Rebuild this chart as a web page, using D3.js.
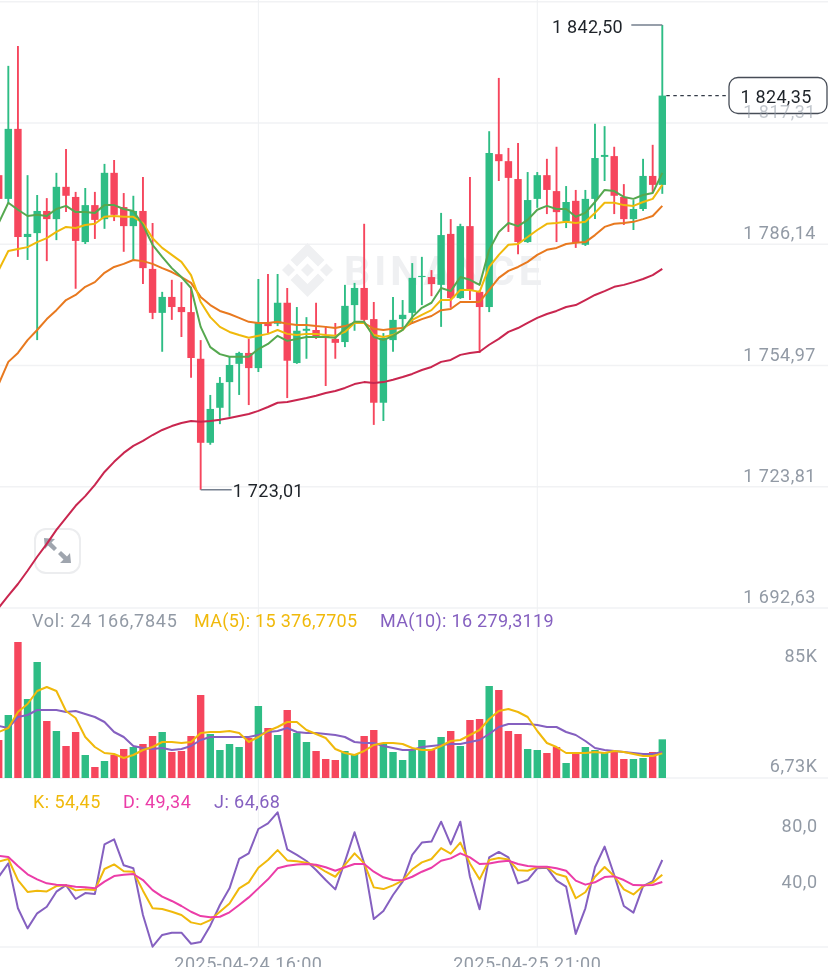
<!doctype html>
<html lang="en">
<head>
<meta charset="utf-8">
<title>ETH candles</title>
<script src="https://d3js.org/d3.v7.min.js"></script>
<style>
    html, body { margin: 0; padding: 0; background: #fff; overflow: hidden; }
    svg { display: block; filter: blur(0.35px); }
    text { font-family: Roboto, sans-serif; }
    .axis-label { font-size: 18px; fill: #929AA5; text-anchor: end; letter-spacing: 0.5px; }
    .legend { font-size: 18px; }
    .grid { stroke: #F1F2F4; stroke-width: 1.5; }
    .vgrid { stroke: #EEF0F3; stroke-width: 1; }
    .line { fill: none; stroke-linejoin: round; }
</style>
</head>
<body>
<svg id="chart" width="828" height="967"></svg>
<script>
// prices, one slot per candle
const opens = [1803.9,1797.8,1815.8,1788.0,1789.0,1794.7,1792.6,1800.9,1798.3,1786.7,1796.2,1792.6,1804.5,1795.7,1790.8,1794.7,1779.8,1768.5,1772.6,1770.0,1768.7,1756.7,1735.1,1744.1,1750.7,1755.4,1758.2,1754.3,1765.9,1765.7,1771.1,1755.6,1763.9,1764.1,1762.6,1761.8,1761.0,1770.5,1774.9,1766.9,1745.4,1761.5,1766.9,1768.5,1777.7,1777.7,1775.7,1788.8,1772.3,1790.8,1773.9,1770.0,1809.3,1807.5,1802.9,1786.7,1797.8,1803.9,1799.8,1792.1,1797.3,1786.0,1797.8,1808.6,1808.8,1798.3,1792.6,1795.2,1803.7,1801.4];
const highs = [1806.5,1832.0,1837.1,1803.9,1798.8,1798.0,1804.5,1810.6,1799.6,1800.6,1799.6,1806.8,1807.8,1799.3,1798.6,1803.4,1791.6,1773.9,1777.0,1776.4,1775.2,1761.5,1747.4,1752.0,1757.2,1758.5,1761.8,1777.2,1778.5,1778.5,1774.9,1770.0,1767.4,1771.1,1765.1,1765.9,1775.7,1776.2,1791.4,1771.3,1763.3,1772.6,1771.8,1781.3,1782.9,1779.5,1794.2,1792.6,1791.4,1803.4,1774.4,1815.2,1828.9,1810.9,1812.2,1804.7,1804.7,1808.1,1811.2,1801.1,1800.1,1800.1,1817.1,1816.5,1811.2,1801.6,1797.5,1808.1,1811.7,1842.5];
const lows = [1796.2,1796.8,1782.9,1782.1,1761.5,1781.8,1787.2,1794.4,1774.7,1786.2,1787.5,1790.1,1792.1,1784.2,1782.1,1775.9,1766.9,1758.5,1766.7,1762.3,1751.8,1723.0,1734.6,1739.9,1741.8,1747.4,1744.8,1753.3,1763.3,1765.1,1746.6,1755.4,1756.7,1761.8,1749.7,1756.7,1759.7,1763.9,1765.9,1739.7,1740.7,1758.5,1764.1,1765.9,1770.5,1772.8,1764.9,1769.8,1772.1,1771.8,1758.2,1768.7,1802.4,1789.3,1783.6,1786.5,1795.5,1793.9,1786.7,1790.3,1785.2,1785.7,1792.6,1802.4,1793.9,1791.1,1789.8,1794.7,1799.3,1799.1];
const closes = [1797.8,1815.8,1788.0,1788.8,1794.7,1792.6,1800.9,1798.6,1787.0,1796.2,1792.4,1804.5,1793.7,1790.8,1794.7,1780.0,1768.5,1772.6,1770.0,1768.7,1756.9,1735.1,1743.8,1750.5,1755.1,1758.2,1754.3,1765.9,1765.1,1771.1,1756.2,1763.9,1764.4,1762.3,1762.1,1760.8,1770.3,1774.9,1766.7,1745.4,1762.1,1766.7,1768.0,1777.5,1778.0,1775.9,1788.5,1772.3,1790.8,1774.4,1770.0,1809.6,1807.5,1803.2,1786.7,1797.5,1803.9,1800.1,1794.4,1797.0,1786.5,1797.8,1808.3,1809.1,1798.6,1792.6,1795.2,1803.7,1801.4,1824.35];
const ma7 = [1791.6,1796.8,1795.0,1793.4,1793.7,1793.4,1795.2,1796.0,1794.4,1794.4,1794.2,1796.2,1796.2,1795.2,1794.7,1791.1,1786.0,1782.9,1780.0,1777.7,1774.9,1764.9,1759.7,1757.9,1757.2,1757.2,1757.2,1759.2,1760.5,1762.6,1761.3,1761.8,1762.3,1762.3,1762.3,1762.1,1764.4,1766.2,1766.2,1762.3,1761.5,1762.6,1764.1,1767.4,1769.8,1771.1,1774.9,1774.1,1777.7,1777.0,1775.7,1784.7,1789.3,1791.6,1790.8,1792.4,1795.0,1796.0,1795.2,1795.2,1793.2,1794.2,1797.0,1800.1,1799.8,1798.3,1797.8,1798.8,1799.3,1804.5];
const ma25 = [1779.5,1784.4,1784.9,1785.4,1786.7,1787.7,1789.3,1790.6,1790.3,1791.1,1791.4,1793.2,1793.4,1793.2,1793.2,1791.6,1787.7,1785.2,1783.4,1781.6,1778.2,1771.3,1767.4,1764.9,1763.6,1762.8,1762.1,1762.6,1763.1,1764.1,1763.1,1762.8,1763.1,1763.1,1762.8,1762.6,1763.6,1765.9,1765.9,1762.8,1762.3,1762.8,1764.1,1766.7,1768.0,1769.2,1771.8,1771.8,1774.4,1774.4,1773.9,1780.3,1783.4,1786.0,1786.2,1788.0,1789.8,1791.4,1791.6,1791.9,1791.6,1791.9,1794.2,1796.8,1796.8,1796.2,1796.0,1797.0,1797.8,1801.4];
const ma50 = [1750.2,1755.9,1758.2,1761.5,1764.1,1766.9,1769.2,1771.8,1773.1,1775.2,1776.4,1778.8,1780.3,1781.1,1782.1,1781.8,1781.1,1780.0,1779.0,1777.7,1776.2,1772.6,1770.5,1769.0,1768.2,1767.2,1766.2,1765.9,1765.9,1766.2,1765.7,1765.4,1765.4,1765.1,1764.9,1764.6,1765.1,1765.9,1765.9,1764.4,1764.1,1764.4,1764.6,1765.9,1766.9,1767.7,1769.2,1769.5,1771.3,1771.3,1771.3,1774.4,1777.5,1779.3,1780.3,1781.6,1783.4,1784.7,1785.2,1786.2,1786.5,1786.7,1788.5,1790.6,1791.4,1791.6,1791.9,1792.6,1793.4,1796.0];
const ma99 = [1692.7,1695.8,1698.8,1702.2,1705.8,1709.1,1712.7,1715.8,1718.9,1721.4,1724.3,1727.6,1730.2,1732.5,1734.3,1735.6,1737.1,1738.4,1739.4,1740.2,1740.7,1740.5,1740.7,1741.0,1741.5,1742.0,1742.5,1743.3,1744.3,1745.4,1745.6,1746.1,1746.6,1747.2,1747.9,1748.4,1749.2,1750.2,1750.7,1750.5,1750.7,1751.3,1752.0,1752.8,1753.8,1754.6,1755.9,1756.4,1757.7,1758.2,1758.5,1760.3,1761.8,1763.6,1764.6,1765.9,1767.2,1768.2,1769.0,1770.0,1770.5,1771.8,1773.1,1774.1,1775.2,1775.7,1776.4,1777.2,1778.2,1779.8];

const volumes = [23750,39375,85000,49375,72500,35625,29375,20000,28750,14375,6875,10625,14375,18125,19375,21250,26250,28750,16250,16875,26250,51875,27500,17500,21250,19375,25000,45000,31250,26875,42500,28125,22500,16875,11875,11250,16875,15000,26250,30000,21250,16250,11250,17500,23750,18125,25625,29375,20000,36250,36875,57500,55000,29375,27500,18125,17500,15625,19375,9375,15000,19375,17500,15625,16875,11875,11875,12500,16250,24166.8];
const volMa5 = [28750,31250,41250,46250,54375,56875,54375,41875,37500,25625,19375,15625,15000,12500,14375,17500,19375,22500,22500,21875,22500,28125,28750,28750,29375,28125,22500,25625,29375,31875,35000,35000,30000,27500,25000,18125,15625,14375,16875,20625,21875,21875,21250,18750,17500,17500,20000,23125,23750,26875,30000,36875,41875,43125,41250,38125,29375,21875,19375,15625,15625,15625,16250,15625,16875,16250,15000,13750,13750,15376.8];
const volMa10 = [32500,31250,38125,39375,42500,42500,42500,41250,41875,40000,38125,35000,28750,25625,20000,18750,18125,18750,17500,18125,20000,23750,25625,25625,25625,25625,25625,26875,28750,29375,31250,28750,28125,28125,27500,26875,25625,22500,21875,21875,20000,18750,17500,17500,19375,20000,20625,21250,21250,22500,23750,27500,31875,33750,33750,33750,33125,31875,31875,28750,26875,23125,18750,17500,16875,16250,15625,15000,15000,16279.3];

const kValues = [63.5,65.4,50.7,42.4,43.3,42.8,46.5,47.0,43.5,44.2,43.7,58.4,61.6,56.8,56.5,43.3,31.0,30.5,28.6,26.3,21.2,19.8,22.8,28.6,34.4,44.9,49.1,59.3,64.7,71.6,64.4,63.8,62.8,60.7,56.5,53.0,61.2,69.3,62.3,45.6,44.4,47.0,50.3,58.2,63.0,65.4,73.0,69.1,76.8,62.3,51.2,64.7,66.1,65.1,57.5,57.2,59.6,59.6,54.9,53.0,38.0,42.2,53.0,59.8,53.5,44.2,40.7,46.5,48.9,54.45];
const dValues = [67.5,66.8,60.5,54.7,51.2,48.4,47.5,47.0,46.1,45.6,44.9,49.6,53.5,54.4,54.9,50.7,43.7,39.1,36.1,32.6,28.6,25.6,24.7,25.1,28.2,33.3,38.6,44.9,51.2,58.9,60.7,61.6,61.9,61.4,59.6,57.2,59.6,61.9,61.9,56.5,52.6,50.7,50.5,53.0,56.5,59.3,64.2,65.8,69.3,66.5,61.9,62.3,63.5,64.2,61.9,60.5,60.0,60.0,58.9,57.2,50.3,47.5,49.1,52.8,53.3,50.7,47.2,47.0,47.2,49.34];
const jValues = [53.0,62.3,31.0,17.0,27.5,32.1,42.6,47.2,37.5,41.6,41.0,75.6,79.1,61.0,58.9,26.3,4.2,12.4,14.0,14.0,6.3,7.5,18.9,33.3,44.9,65.4,69.3,86.3,90.2,97.9,72.1,68.2,64.0,57.7,50.7,44.2,63.5,84.0,62.3,23.5,29.1,40.3,49.6,68.2,76.8,77.5,91.4,75.6,91.4,53.0,30.3,66.5,70.3,66.5,48.4,50.7,58.9,59.3,50.3,46.1,13.1,31.0,59.6,74.0,54.2,32.6,28.0,46.5,50.0,64.68];

const priceTicks = [1817.31, 1786.14, 1754.97, 1723.81, 1692.63];
const priceTickLabels = ["1 817,31", "1 786,14", "1 754,97", "1 723,81", "1 692,63"];
const volTickLabels = ["85K", "6,73K"];
const kdjTicks = [80, 40];
const kdjTickLabels = ["80,0", "40,0"];
const timeTicks = [27, 56];
const timeLabels = ["2025-04-24 16:00", "2025-04-25 21:00"];

const green = "#2EBD85", red = "#F6465D";
const gold = "#F0B90B", purple = "#8560C0", gray = "#929AA5", pink = "#EB3DA8";

const svg = d3.select("#chart");
const width = 828;

const x = d3.scaleLinear().domain([0, closes.length - 1]).range([-1.3, 662.3]);
const y = d3.scaleLinear().domain([1692.63, 1817.31]).range([608, 123]);
const vy = d3.scaleLinear().domain([0, 85000]).range([778, 642]);
const ky = d3.scaleLinear().domain([49.34, 64.68]).range([882, 860]);

const bodyW = 7.4;
const colorOf = i => closes[i] >= opens[i] ? green : red;
const indexes = d3.range(closes.length);

// grid
const gridYs = [y(1848.48), ...priceTicks.map(y), vy(0), 947];
svg.append("g").selectAll("line").data(gridYs).enter().append("line")
    .attr("class", "grid")
    .attr("x1", 0).attr("x2", width)
    .attr("y1", d => d).attr("y2", d => d);
svg.append("g").selectAll("line").data(timeTicks).enter().append("line")
    .attr("class", "vgrid")
    .attr("x1", d => x(d)).attr("x2", d => x(d))
    .attr("y1", 0).attr("y2", 947);

// watermark
const wm = svg.append("g").attr("fill", "#EFF0F2").attr("transform", "translate(307.5,270)");
const diamond = (cx, cy, r) => [[cx, cy - r], [cx + r, cy], [cx, cy + r], [cx - r, cy]].join(" ");
wm.selectAll("polygon.d").data([[0, 0, 6.5], [-19, 0, 6.5], [19, 0, 6.5]]).enter().append("polygon")
    .attr("class", "d").attr("points", d => diamond(d[0], d[1], d[2]));
wm.append("path").attr("d", "M0,-27 L17,-10 L10.5,-3.5 L0,-14 L-10.5,-3.5 L-17,-10 Z");
wm.append("path").attr("d", "M0,27 L17,10 L10.5,3.5 L0,14 L-10.5,3.5 L-17,10 Z");
svg.append("text").attr("x", 344).attr("y", 285)
    .attr("font-size", 41).attr("font-weight", 700).attr("letter-spacing", 4)
    .attr("fill", "#EFF0F2").text("BINANCE");

// expand button, the long average runs over it
svg.append("rect").attr("x", 35).attr("y", 529).attr("width", 45).attr("height", 44).attr("rx", 11)
    .attr("fill", "#fff").attr("stroke", "#ECEDEF").attr("stroke-width", 2);
svg.append("path").attr("d", "M44,538 L55,539 L51.5,542.5 L57,548 L54,551 L48,545.5 L45,549 Z").attr("fill", "#9FA5AE");
svg.append("path").attr("d", "M71,563 L60,563 L63.5,559.5 L58,554 L61,551 L67,556.5 L70,553 Z").attr("fill", "#9FA5AE");

// candles
const candles = svg.append("g");
candles.selectAll("line").data(indexes).enter().append("line")
    .attr("x1", i => x(i)).attr("x2", i => x(i))
    .attr("y1", i => y(highs[i])).attr("y2", i => y(lows[i]))
    .attr("stroke", colorOf).attr("stroke-width", 1.9);
candles.selectAll("rect").data(indexes).enter().append("rect")
    .attr("x", i => x(i) - bodyW / 2).attr("width", bodyW)
    .attr("y", i => y(Math.max(opens[i], closes[i])))
    .attr("height", i => Math.max(1, Math.abs(y(opens[i]) - y(closes[i]))))
    .attr("fill", colorOf);

const priceLine = d3.line().x((d, i) => x(i)).y(d => y(d));
[[ma99, "#C9264F"], [ma50, "#E8791F"], [ma25, gold], [ma7, "#55A84F"]].forEach(([vals, color]) => {
    svg.append("path").attr("class", "line").attr("d", priceLine(vals))
        .attr("stroke", color).attr("stroke-width", 2);
});

// high and low markers
const hi = d3.max(highs), lo = d3.min(lows);
const hiX = x(highs.indexOf(hi)), loX = x(lows.indexOf(lo));
svg.append("path").attr("fill", "none").attr("stroke", "#76808F").attr("stroke-width", 1.5)
    .attr("d", `M${hiX},${y(hi)}H${hiX - 31} M${loX},${y(lo)}H${loX + 31}`);
svg.append("text").attr("x", 623).attr("y", y(hi) + 7.5).attr("text-anchor", "end")
    .attr("font-size", 18).attr("letter-spacing", 0.3).attr("fill", "#1E2329").text("1 842,50");
svg.append("text").attr("x", loX + 32).attr("y", y(lo) + 7.5)
    .attr("font-size", 18).attr("letter-spacing", 0.3).attr("fill", "#1E2329").text("1 723,01");

// last price tag
const lastY = y(closes[closes.length - 1]);
svg.append("line").attr("x1", x(closes.length - 1) + 4).attr("x2", 729)
    .attr("y1", lastY).attr("y2", lastY)
    .attr("stroke", "#333B47").attr("stroke-dasharray", "3.5,3.5").attr("stroke-width", 1.2);
svg.append("rect").attr("x", 729).attr("y", 77.5).attr("width", 98).attr("height", 36).attr("rx", 9)
    .attr("fill", "#fff").attr("stroke", "#474D57").attr("stroke-width", 1.3);
svg.append("text").attr("x", 776).attr("y", 103).attr("text-anchor", "middle")
    .attr("font-size", 18).attr("letter-spacing", 0.3).attr("fill", "#1E2329").text("1 824,35");

// price axis labels, the top one sits half behind the tag and reads fainter
svg.append("g").selectAll("text").data(priceTicks).enter().append("text")
    .attr("class", "axis-label")
    .attr("x", 816).attr("y", d => y(d) - 5)
    .attr("opacity", (d, i) => i === 0 ? 0.55 : 1)
    .text((d, i) => priceTickLabels[i]);

// volume panel
svg.append("g").selectAll("rect").data(indexes).enter().append("rect")
    .attr("x", i => x(i) - bodyW / 2).attr("width", bodyW)
    .attr("y", i => vy(volumes[i]))
    .attr("height", i => vy(0) - vy(volumes[i]))
    .attr("fill", colorOf);
const volLine = d3.line().x((d, i) => x(i)).y(d => vy(d));
svg.append("path").attr("class", "line").attr("d", volLine(volMa10)).attr("stroke", purple).attr("stroke-width", 2);
svg.append("path").attr("class", "line").attr("d", volLine(volMa5)).attr("stroke", gold).attr("stroke-width", 2);

svg.append("text").attr("class", "legend").attr("x", 32).attr("y", 627).attr("letter-spacing", 0.75).attr("fill", gray).text("Vol: 24 166,7845");
svg.append("text").attr("class", "legend").attr("x", 194).attr("y", 627).attr("letter-spacing", 0.3).attr("fill", gold).text("MA(5): 15 376,7705");
svg.append("text").attr("class", "legend").attr("x", 380).attr("y", 627).attr("letter-spacing", 0.3).attr("fill", purple).text("MA(10): 16 279,3119");

svg.append("text").attr("class", "axis-label").attr("x", 817.5).attr("y", 662).text(volTickLabels[0]);
svg.append("text").attr("class", "axis-label").attr("x", 817.5).attr("y", 772).text(volTickLabels[1]);

// KDJ panel
const kdjLine = d3.line().x((d, i) => x(i)).y(d => ky(d));
[[jValues, purple], [kValues, gold], [dValues, pink]].forEach(([vals, color]) => {
    svg.append("path").attr("class", "line").attr("d", kdjLine(vals))
        .attr("stroke", color).attr("stroke-width", 2);
});

svg.append("text").attr("class", "legend").attr("x", 33).attr("y", 808).attr("letter-spacing", 0.45).attr("fill", gold).text("K: 54,45");
svg.append("text").attr("class", "legend").attr("x", 123).attr("y", 808).attr("letter-spacing", 0.45).attr("fill", pink).text("D: 49,34");
svg.append("text").attr("class", "legend").attr("x", 214).attr("y", 808).attr("letter-spacing", 0.45).attr("fill", purple).text("J: 64,68");

svg.append("g").selectAll("text").data(kdjTicks).enter().append("text")
    .attr("class", "axis-label")
    .attr("x", 817.5).attr("y", (d, i) => ky(d) - (i === 0 ? 6 : 7.4))
    .text((d, i) => kdjTickLabels[i]);

// time labels, cut by the bottom of the screenshot
svg.append("g").selectAll("text").data(timeTicks).enter().append("text")
    .attr("x", d => x(d) - 10).attr("y", 970)
    .attr("text-anchor", "middle").attr("font-size", 18).attr("letter-spacing", 0.5).attr("fill", gray)
    .text((d, i) => timeLabels[i]);
</script>
</body>
</html>
